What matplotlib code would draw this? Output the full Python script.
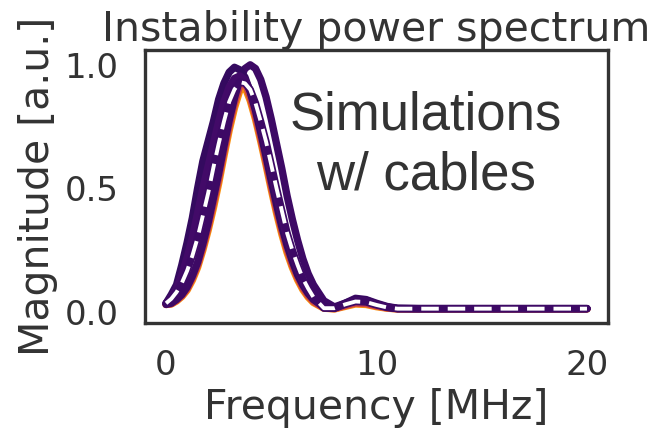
import numpy as np
import matplotlib
matplotlib.use("Agg")
import matplotlib.pyplot as plt

# frequency grid [MHz]
freq = [0.0, 0.25, 0.5, 0.75, 1.0, 1.25, 1.5, 1.75, 2.0, 2.25, 2.5, 2.75,
        3.0, 3.25, 3.5, 3.75, 4.0, 4.25, 4.5, 4.75, 5.0, 5.25, 5.5, 5.75,
        6.0, 6.25, 6.5, 6.75, 7.0, 7.5, 8.0, 8.5, 9.0, 9.5, 10.0, 10.5,
        11, 12, 13, 14, 15, 16, 17, 18, 19, 20]

# simulated spectra, one per cable configuration
sim_a = [0.035, 0.07, 0.11, 0.19, 0.28, 0.38, 0.50, 0.61, 0.69, 0.77, 0.86, 0.925,
         0.97, 0.99, 0.98, 0.95, 0.89, 0.815, 0.725, 0.63, 0.53, 0.435, 0.345, 0.27,
         0.205, 0.15, 0.108, 0.075, 0.05, 0.02, 0.015, 0.035, 0.05, 0.048, 0.032, 0.02,
         0.014, 0.013, 0.013, 0.013, 0.013, 0.013, 0.013, 0.013, 0.013, 0.013]
sim_b = [0.035, 0.06, 0.095, 0.15, 0.22, 0.30, 0.40, 0.50, 0.59, 0.68, 0.77, 0.85,
         0.91, 0.945, 0.955, 0.94, 0.895, 0.83, 0.75, 0.66, 0.56, 0.47, 0.38, 0.295,
         0.23, 0.17, 0.12, 0.085, 0.055, 0.018, 0.015, 0.032, 0.046, 0.044, 0.03, 0.019,
         0.013, 0.013, 0.013, 0.013, 0.013, 0.013, 0.013, 0.013, 0.013, 0.013]
sim_c = [0.03, 0.035, 0.05, 0.07, 0.10, 0.145, 0.20, 0.275, 0.36, 0.46, 0.56, 0.67,
         0.775, 0.865, 0.94, 0.985, 1.0, 0.985, 0.94, 0.87, 0.78, 0.68, 0.58, 0.47,
         0.375, 0.29, 0.215, 0.155, 0.11, 0.045, 0.02, 0.035, 0.055, 0.05, 0.035, 0.022,
         0.015, 0.014, 0.014, 0.014, 0.014, 0.014, 0.014, 0.014, 0.014, 0.014]
sim_d = [0.03, 0.033, 0.047, 0.066, 0.094, 0.137, 0.19, 0.262, 0.345, 0.44, 0.54, 0.65,
         0.755, 0.845, 0.915, 0.93, 0.87, 0.795, 0.705, 0.61, 0.51, 0.415, 0.33, 0.255,
         0.19, 0.14, 0.098, 0.067, 0.043, 0.016, 0.013, 0.025, 0.036, 0.034, 0.024, 0.016,
         0.012, 0.012, 0.012, 0.012, 0.012, 0.012, 0.012, 0.012, 0.012, 0.012]
sim_e = [0.03, 0.032, 0.044, 0.062, 0.088, 0.128, 0.18, 0.25, 0.33, 0.42, 0.52, 0.63,
         0.735, 0.825, 0.895, 0.91, 0.855, 0.78, 0.69, 0.595, 0.495, 0.40, 0.315, 0.24,
         0.18, 0.13, 0.09, 0.06, 0.038, 0.015, 0.012, 0.022, 0.032, 0.03, 0.021, 0.015,
         0.012, 0.012, 0.012, 0.012, 0.012, 0.012, 0.012, 0.012, 0.012, 0.012]

# ensemble mean
sim_mean = [0.035, 0.053, 0.08, 0.117, 0.166, 0.227, 0.30, 0.39, 0.48, 0.584, 0.68, 0.77,
            0.85, 0.90, 0.93, 0.925, 0.90, 0.845, 0.77, 0.69, 0.595, 0.50, 0.41, 0.32,
            0.25, 0.19, 0.135, 0.095, 0.06, 0.015, 0.015, 0.03, 0.042, 0.04, 0.028, 0.018,
            0.013, 0.013, 0.013, 0.013, 0.013, 0.013, 0.013, 0.013, 0.013, 0.013]

x_ticks = [0, 10, 20]
y_ticks = [0.0, 0.5, 1.0]

cmap = plt.get_cmap("inferno")
txt_col = "#333333"

fig = plt.figure(figsize=(6.54, 4.32), dpi=100)
ax = fig.add_axes([0.2217, 0.2523, 0.9297 - 0.2217, 0.8843 - 0.2523])

lw = 5.3
# warm colours underneath, dark ones on top
ax.plot(freq, sim_e, color=cmap(0.75), lw=lw, solid_capstyle="round")
ax.plot(freq, sim_d, color=cmap(0.55), lw=lw, solid_capstyle="round")
ax.plot(freq, sim_c, color=cmap(0.19), lw=lw, solid_capstyle="round")
ax.plot(freq, sim_a, color=cmap(0.17), lw=lw, solid_capstyle="round")
ax.plot(freq, sim_b, color=cmap(0.2), lw=lw, solid_capstyle="round")
ax.plot(freq, sim_mean, color=cmap(0.19), lw=lw, solid_capstyle="round")
ax.plot(freq, sim_mean, color="white", lw=2.8, ls=(0, (4.5, 2.3)))

ax.set_xlim(-1, 21)
ax.set_ylim(-0.045, 1.06)
ax.set_xticks(x_ticks)
ax.set_yticks(y_ticks)
ax.tick_params(length=0, pad=19, labelsize=24.5, colors=txt_col)

for s in ax.spines.values():
    s.set_color(txt_col)
    s.set_linewidth(2.4)

ax.set_xlabel("Frequency [MHz]", fontsize=29.5, color=txt_col, labelpad=4)
ax.set_ylabel("Magnitude [a.u.]", fontsize=29.5, color=txt_col, labelpad=5)
ax.set_title("Instability power spectrum", fontsize=29.5, color=txt_col, pad=4)

ax.text(0.607, 0.65, "Simulations\nw/ cables", transform=ax.transAxes,
        ha="center", va="center", multialignment="center",
        fontsize=38, family="Liberation Sans", color=txt_col, linespacing=1.26)

fig.savefig("out.png", dpi=100)
